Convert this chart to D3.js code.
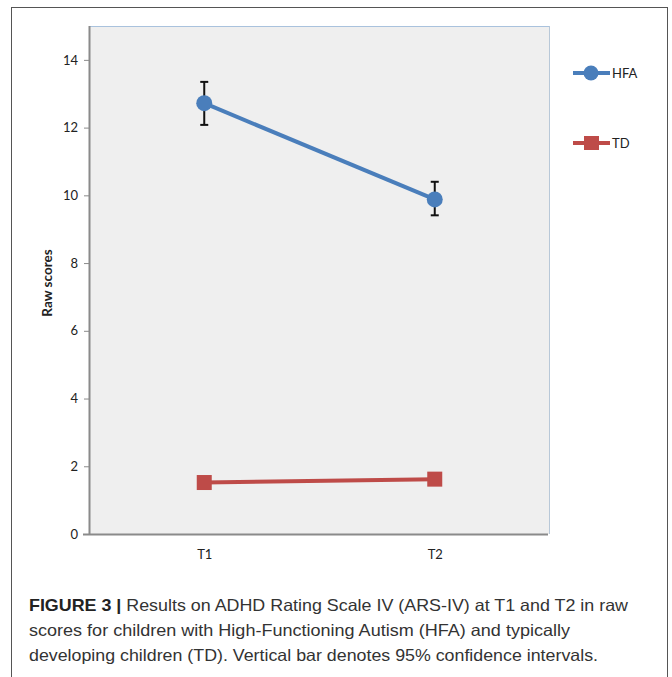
<!DOCTYPE html>
<html><head><meta charset="utf-8">
<script src="https://cdn.jsdelivr.net/npm/d3@7"></script>
<style>
body{margin:0;background:#fff;}
svg{display:block;}
</style></head>
<body>
<svg id="c" width="672" height="677"></svg>
<script>
const categories = ["T1","T2"];
const seriesNames = ["HFA","TD"];
const hfaValues = [12.72, 9.88];
const hfaLower = [12.08, 9.41];
const hfaUpper = [13.35, 10.40];
const tdValues = [1.52, 1.62];
const yTicks = [0,2,4,6,8,10,12,14];
const captionBold = "FIGURE 3 |";
const captionLines = [
  " Results on ADHD Rating Scale IV (ARS-IV) at T1 and T2 in raw",
  "scores for children with High-Functioning Autism (HFA) and typically",
  "developing children (TD). Vertical bar denotes 95% confidence intervals."
];

const svg = d3.select("#c");
const blue = "#4a7ebb", red = "#be4b48";
const L = 89, R = 550, T = 26, B = 534;
const labFont = "Lato, 'Open Sans', sans-serif";

// outer frame
svg.append("rect").attr("x",11.5).attr("y",7.5).attr("width",656).attr("height",700)
  .attr("fill","none").attr("stroke","#555").attr("stroke-width",1);

const x = d3.scalePoint().domain(categories).range([L,R]).padding(0.5);
const y = d3.scaleLinear().domain([0,15]).range([B,T]);

// plot background
svg.append("rect").attr("x",L).attr("y",T).attr("width",R-L).attr("height",B-T).attr("fill","#efefef");
svg.append("line").attr("x1",L).attr("x2",R).attr("y1",T+0.5).attr("y2",T+0.5).attr("stroke","#a9c2dd").attr("stroke-width",1);
svg.append("line").attr("x1",R-0.5).attr("x2",R-0.5).attr("y1",T).attr("y2",B).attr("stroke","#b8c8d8").attr("stroke-width",1);

// y axis
const yAxis = svg.append("g").attr("transform",`translate(${L},0)`)
  .call(d3.axisLeft(y).tickValues(yTicks).tickSize(5).tickPadding(6).tickFormat(d3.format("d")));
yAxis.select(".domain").attr("stroke","#8a8a8a").attr("stroke-width",2).attr("d",`M0.5,${T}V${B}`);
yAxis.selectAll(".tick line").attr("stroke","#8a8a8a").attr("stroke-width",1);
yAxis.selectAll(".tick text").attr("font-family",labFont).attr("font-size",13).attr("fill","#222");

// x axis
const xAxis = svg.append("g").attr("transform",`translate(0,${B})`)
  .call(d3.axisBottom(x).tickSize(0).tickPadding(16));
xAxis.select(".domain").attr("stroke","#8a8a8a").attr("stroke-width",2).attr("d",`M${L-6},0.5H${R-2}`);
xAxis.selectAll(".tick text").attr("font-family",labFont).attr("font-size",13).attr("fill","#222");

// y label
svg.append("text").attr("transform",`translate(52,283) rotate(-90)`)
  .attr("text-anchor","middle").attr("font-family",labFont)
  .attr("font-weight","bold").attr("font-size",13.5).attr("fill","#222").text("Raw scores");

const line = d3.line().x((d,i)=>x(categories[i])).y(d=>y(d));

// TD series
svg.append("path").datum(tdValues).attr("d",line).attr("fill","none").attr("stroke",red).attr("stroke-width",4);
svg.selectAll(".tdm").data(tdValues).join("rect").attr("class","tdm")
  .attr("x",(d,i)=>x(categories[i])-7.5).attr("y",d=>y(d)-7.5).attr("width",15).attr("height",15).attr("fill",red);

// HFA series
svg.append("path").datum(hfaValues).attr("d",line).attr("fill","none").attr("stroke",blue).attr("stroke-width",4);
const eb = svg.selectAll(".eb").data(categories).join("g").attr("class","eb");
eb.append("line").attr("x1",d=>x(d)).attr("x2",d=>x(d)).attr("y1",(d,i)=>y(hfaUpper[i])).attr("y2",(d,i)=>y(hfaLower[i])).attr("stroke","#111").attr("stroke-width",2);
eb.append("line").attr("x1",d=>x(d)-4).attr("x2",d=>x(d)+4).attr("y1",(d,i)=>y(hfaUpper[i])).attr("y2",(d,i)=>y(hfaUpper[i])).attr("stroke","#111").attr("stroke-width",2);
eb.append("line").attr("x1",d=>x(d)-4).attr("x2",d=>x(d)+4).attr("y1",(d,i)=>y(hfaLower[i])).attr("y2",(d,i)=>y(hfaLower[i])).attr("stroke","#111").attr("stroke-width",2);
svg.selectAll(".hfam").data(hfaValues).join("circle").attr("class","hfam")
  .attr("cx",(d,i)=>x(categories[i])).attr("cy",d=>y(d)).attr("r",8).attr("fill",blue);

// legend
const leg = [{n:seriesNames[0],c:blue,y:73,shape:"circle"},{n:seriesNames[1],c:red,y:143,shape:"square"}];
leg.forEach(l=>{
  const g = svg.append("g");
  g.append("line").attr("x1",573).attr("x2",610).attr("y1",l.y).attr("y2",l.y).attr("stroke",l.c).attr("stroke-width",4);
  if(l.shape==="circle") g.append("circle").attr("cx",591).attr("cy",l.y).attr("r",7.5).attr("fill",l.c);
  else g.append("rect").attr("x",584).attr("y",l.y-7).attr("width",15).attr("height",14).attr("fill",l.c);
  g.append("text").attr("x",612).attr("y",l.y+4.5).attr("font-family",labFont)
    .attr("font-size",13).attr("fill","#222").text(l.n);
});

// caption
const capWidths = [599, 541, 569];
const cap = svg.append("g").attr("font-family","'Liberation Sans', Arial, sans-serif").attr("font-size",16.5).attr("fill","#333");
captionLines.forEach((t,i)=>{
  const tx = cap.append("text").attr("x",29).attr("y",611+i*25)
    .attr("textLength",capWidths[i]).attr("lengthAdjust","spacingAndGlyphs");
  if(i===0){ tx.append("tspan").attr("font-weight","bold").attr("fill","#222").text(captionBold); }
  tx.append("tspan").text(t);
});
</script>
</body></html>
